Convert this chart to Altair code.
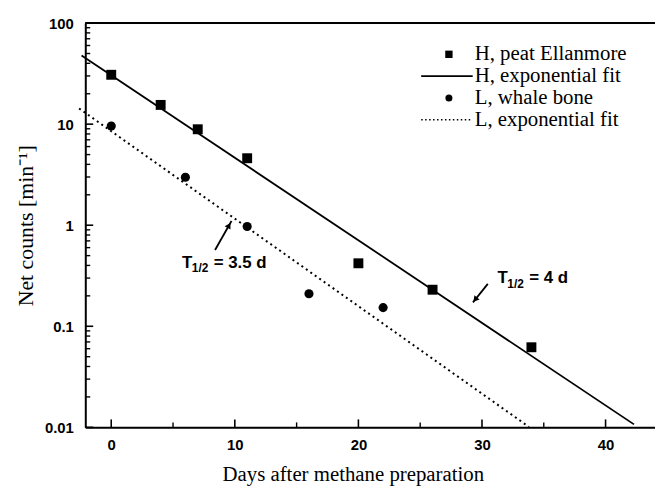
import altair as alt
import pandas as pd
import math

# ---- data ----
h_days = [0, 4, 7, 11, 20, 26, 34]
h_counts = [30.8, 15.5, 8.9, 4.6, 0.42, 0.23, 0.062]
l_days = [0, 6, 11, 16, 22]
l_counts = [9.6, 2.98, 0.97, 0.21, 0.153]

h_fit_days = [-2.4, 42.3]
h_fit_counts = [47.9, 0.0107]
l_fit_days = [-2.6, 33.8]
l_fit_counts = [14.3, 0.0101]

x_major = [0, 10, 20, 30, 40]
x_minor = [5, 15, 25, 35]
y_major = [0.01, 0.1, 1, 10, 100]
y_minor = [m * d for d in [0.01, 0.1, 1, 10] for m in range(2, 10)]

legend_labels = ["H, peat Ellanmore", "H, exponential fit", "L, whale bone", "L, exponential fit"]

ann_x = [5.72, 31.25]
ann_y = [0.427, 0.300]
ann_main = ["T", "T"]
ann_sub = ["1/2", "1/2"]
ann_rest = ["= 3.5 d", "= 4 d"]

arrow_tail_x = [8.40, 30.47]
arrow_tail_y = [0.568, 0.263]
arrow_head_x = [9.73, 29.27]
arrow_head_y = [1.10, 0.1726]
arrow_angle = [30, 219]

# ---- layout ----
W, H = 575, 408
xs = alt.Scale(domain=[-2.1, 44.0], nice=False, zero=False)
ys = alt.Scale(type="log", domain=[0.01, 100], nice=False)
SANS = "Liberation Sans"
SERIF = "Liberation Serif"

x_axis = alt.Axis(values=x_major, title="Days after methane preparation", grid=False, ticks=False,
                  tickSize=0, labelFont=SANS, labelFontWeight="bold", labelFontSize=15,
                  labelPadding=10, labelColor="black", domainColor="black", domainWidth=2,
                  titleFont=SERIF, titleFontSize=21, titleFontWeight="normal", titleColor="black",
                  titleX=270, titleY=48, titleBaseline="middle", titleAlign="center")
y_axis = alt.Axis(values=y_major, format="~g", title="Net counts [min⁻¹]", grid=False, ticks=False,
                  tickSize=0, labelFont=SANS, labelFontWeight="bold", labelFontSize=15,
                  labelPadding=12, labelColor="black", domainColor="black", domainWidth=2,
                  titleFont=SERIF, titleFontSize=22, titleFontWeight="normal", titleColor="black",
                  titleX=-60, titleY=204, titleAngle=-90, titleBaseline="middle", titleAlign="center")

pts_h = pd.DataFrame({"d": h_days, "c": h_counts})
pts_l = pd.DataFrame({"d": l_days, "c": l_counts})
fit_h = pd.DataFrame({"d": h_fit_days, "c": h_fit_counts})
fit_l = pd.DataFrame({"d": l_fit_days, "c": l_fit_counts})

base_axes = alt.Chart(pts_h).mark_point(opacity=0).encode(
    x=alt.X("d:Q", scale=xs, axis=x_axis),
    y=alt.Y("c:Q", scale=ys, axis=y_axis),
)

line_h = alt.Chart(fit_h).mark_line(color="black", strokeWidth=1.8, clip=False).encode(
    x=alt.X("d:Q", scale=xs), y=alt.Y("c:Q", scale=ys))
line_l = alt.Chart(fit_l).mark_line(color="black", strokeWidth=2, strokeDash=[2, 3.5], clip=False).encode(
    x=alt.X("d:Q", scale=xs), y=alt.Y("c:Q", scale=ys))

sq = alt.Chart(pts_h).mark_point(shape="square", filled=True, color="black", opacity=1, size=100).encode(
    x=alt.X("d:Q", scale=xs), y=alt.Y("c:Q", scale=ys))
ci = alt.Chart(pts_l).mark_point(shape="circle", filled=True, color="black", opacity=1, size=85).encode(
    x=alt.X("d:Q", scale=xs), y=alt.Y("c:Q", scale=ys))

# inward ticks
ymaj = alt.Chart(pd.DataFrame({"v": y_major})).mark_rule(color="black", strokeWidth=1.6).encode(
    y=alt.Y("v:Q", scale=ys), x=alt.value(0), x2=alt.value(8))
ymin = alt.Chart(pd.DataFrame({"v": y_minor})).mark_rule(color="black", strokeWidth=1.4).encode(
    y=alt.Y("v:Q", scale=ys), x=alt.value(0), x2=alt.value(5))
xmaj = alt.Chart(pd.DataFrame({"v": x_major})).mark_rule(color="black", strokeWidth=1.6).encode(
    x=alt.X("v:Q", scale=xs), y=alt.value(H), y2=alt.value(H - 8))
xmin = alt.Chart(pd.DataFrame({"v": x_minor})).mark_rule(color="black", strokeWidth=1.4).encode(
    x=alt.X("v:Q", scale=xs), y=alt.value(H), y2=alt.value(H - 5))
top = alt.Chart(pd.DataFrame({"v": [0]})).mark_rule(color="black", strokeWidth=2).encode(
    x=alt.value(0), x2=alt.value(W), y=alt.value(0))

# arrows
frac = 0.85
tri_x = [t + frac * (h - t) for t, h in zip(arrow_tail_x, arrow_head_x)]
tri_y = [10 ** (math.log10(t) + frac * (math.log10(h) - math.log10(t))) for t, h in zip(arrow_tail_y, arrow_head_y)]
arr = pd.DataFrame({"tx": arrow_tail_x, "ty": arrow_tail_y, "hx": arrow_head_x, "hy": arrow_head_y,
                    "px": tri_x, "py": tri_y, "ang": arrow_angle})
arrow_lines = alt.Chart(arr).mark_rule(color="black", strokeWidth=1.8).encode(
    x=alt.X("tx:Q", scale=xs), y=alt.Y("ty:Q", scale=ys), x2="hx:Q", y2="hy:Q")
arrow_heads = alt.Chart(arr).mark_point(shape="triangle-up", filled=True, color="black", opacity=1, size=45).encode(
    x=alt.X("px:Q", scale=xs), y=alt.Y("py:Q", scale=ys), angle=alt.Angle("ang:Q", scale=None))

ann = pd.DataFrame({"x": ann_x, "y": ann_y, "m": ann_main, "s": ann_sub, "r": ann_rest})
t_main = alt.Chart(ann).mark_text(font=SANS, fontWeight="bold", fontSize=17, align="left", baseline="middle").encode(
    x=alt.X("x:Q", scale=xs), y=alt.Y("y:Q", scale=ys), text="m:N")
t_sub = alt.Chart(ann).mark_text(font=SANS, fontWeight="bold", fontSize=12, align="left", baseline="middle",
                                 dx=10, dy=6).encode(
    x=alt.X("x:Q", scale=xs), y=alt.Y("y:Q", scale=ys), text="s:N")
t_rest = alt.Chart(ann).mark_text(font=SANS, fontWeight="bold", fontSize=17, align="left", baseline="middle",
                                  dx=32).encode(
    x=alt.X("x:Q", scale=xs), y=alt.Y("y:Q", scale=ys), text="r:N")

# legend (manual)
row_y = [31.5, 53.5, 75.5, 97.5]
leg_x_sym, leg_x0, leg_x1, leg_x_txt = 367, 339, 391, 393
one = pd.DataFrame({"v": [0]})
legend_layers = []
for lab, ry in zip(legend_labels, row_y):
    legend_layers.append(alt.Chart(pd.DataFrame({"t": [lab]})).mark_text(
        font=SERIF, fontSize=21, align="left", baseline="middle", color="black").encode(
        x=alt.value(leg_x_txt), y=alt.value(ry), text="t:N"))
legend_layers.append(alt.Chart(one).mark_point(shape="square", filled=True, color="black", opacity=1, size=55).encode(
    x=alt.value(leg_x_sym), y=alt.value(row_y[0])))
legend_layers.append(alt.Chart(one).mark_rule(color="black", strokeWidth=1.6).encode(
    x=alt.value(leg_x0), x2=alt.value(leg_x1), y=alt.value(row_y[1])))
legend_layers.append(alt.Chart(one).mark_point(shape="circle", filled=True, color="black", opacity=1, size=50).encode(
    x=alt.value(leg_x_sym), y=alt.value(row_y[2])))
legend_layers.append(alt.Chart(one).mark_rule(color="black", strokeWidth=1.4, strokeDash=[1.5, 2.5]).encode(
    x=alt.value(leg_x0), x2=alt.value(leg_x1), y=alt.value(row_y[3])))

chart = alt.layer(
    base_axes, line_h, line_l, sq, ci, ymaj, ymin, xmaj, xmin, top,
    arrow_lines, arrow_heads, t_main, t_sub, t_rest, *legend_layers
).properties(
    width=W, height=H,
    autosize=alt.AutoSizeParams(type="none"),
    padding={"left": 78, "top": 13, "right": 0, "bottom": 60},
).configure_view(stroke=None).configure(background="white")

chart.save("out.html", embed_options={"renderer": "svg", "actions": False})
